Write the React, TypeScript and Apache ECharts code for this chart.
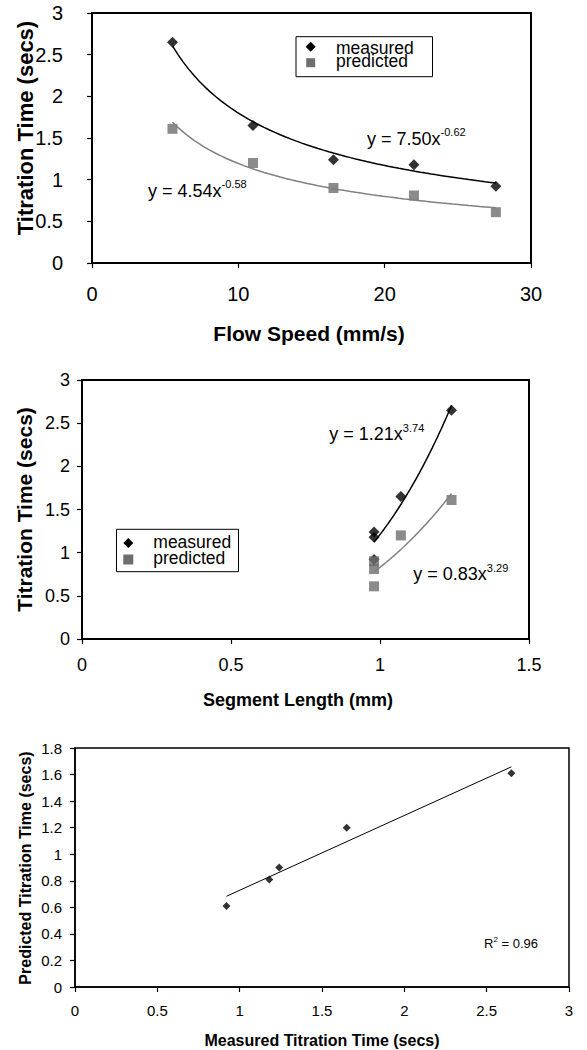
import React, { useEffect, useRef } from "react";
import * as echarts from "echarts";

const FONT = "'Liberation Sans', Arial, Helvetica, sans-serif";

// ---- data ----
const flowSpeed = [5.5, 11, 16.5, 22, 27.6];
const segmentLength = [1.24, 1.07, 0.98, 0.98, 0.98];
const measuredTime = [2.65, 1.65, 1.24, 1.18, 0.92];
const predictedTime = [1.61, 1.2, 0.9, 0.81, 0.61];

// power-law trendlines as printed on the chart (y = a x^b)
const speedFitMeasured = { a: 7.5, b: -0.62, base: "y = 7.50x", sup: "-0.62" };
const speedFitPredicted = { a: 4.54, b: -0.58, base: "y = 4.54x", sup: "-0.58" };
const lengthFitMeasured = { a: 1.21, b: 3.74, base: "y = 1.21x", sup: "3.74" };
const lengthFitPredicted = { a: 0.83, b: 3.29, base: "y = 0.83x", sup: "3.29" };
const rSquaredText = "0.96";

const legendNames = ["measured", "predicted"];

const BLACK = "#000000";
const GRAY_MARK = "#6e6e6e";
const GRAY_LINE = "#808080";

function powerCurve(fit: { a: number; b: number }, xs: number[]) {
  const lo = Math.min(...xs);
  const hi = Math.max(...xs);
  const n = 60;
  const out: number[][] = [];
  for (let i = 0; i <= n; i++) {
    const x = lo + ((hi - lo) * i) / n;
    out.push([x, fit.a * Math.pow(x, fit.b)]);
  }
  return out;
}

function linearFit(xs: number[], ys: number[]) {
  const n = xs.length;
  const mx = xs.reduce((s, v) => s + v, 0) / n;
  const my = ys.reduce((s, v) => s + v, 0) / n;
  let sxy = 0;
  let sxx = 0;
  for (let i = 0; i < n; i++) {
    sxy += (xs[i] - mx) * (ys[i] - my);
    sxx += (xs[i] - mx) * (xs[i] - mx);
  }
  const slope = sxy / sxx;
  const icpt = my - slope * mx;
  const lo = Math.min(...xs);
  const hi = Math.max(...xs);
  return [
    [lo, icpt + slope * lo],
    [hi, icpt + slope * hi],
  ];
}

let measureCtx: CanvasRenderingContext2D | null = null;
function textWidth(t: string, size: number, weight = "normal") {
  if (!measureCtx) measureCtx = document.createElement("canvas").getContext("2d");
  if (!measureCtx) return t.length * size * 0.55;
  measureCtx.font = `${weight} ${size}px ${FONT}`;
  return measureCtx.measureText(t).width;
}

function txt(x: number, y: number, text: string, size: number, opts: any = {}) {
  return {
    type: "text",
    x,
    y,
    rotation: opts.rotation || 0,
    silent: true,
    z: 100,
    style: {
      text,
      fontSize: size,
      fontFamily: FONT,
      fontWeight: opts.bold ? "bold" : "normal",
      fill: opts.fill || BLACK,
      align: opts.align || "left",
      textAlign: opts.align || "left",
      verticalAlign: "middle",
      textVerticalAlign: "middle",
    },
  };
}

function equation(x: number, y: number, base: string, sup: string, size: number, supSize: number, supDy: number) {
  const w = textWidth(base, size);
  return [txt(x, y, base, size), txt(x + w, y + supDy, sup, supSize)];
}

function legendBox(
  box: number[],
  mx: number,
  dy: number,
  sy: number,
  sq: number,
  tx: number,
  ty1: number,
  ty2: number,
  size: number
) {
  const d = 5;
  return [
    {
      type: "rect",
      silent: true,
      z: 90,
      shape: { x: box[0], y: box[1], width: box[2], height: box[3] },
      style: { fill: "#ffffff", stroke: BLACK, lineWidth: 1 },
    },
    {
      type: "polygon",
      silent: true,
      z: 95,
      shape: { points: [[mx, dy - d], [mx + d, dy], [mx, dy + d], [mx - d, dy]] },
      style: { fill: BLACK },
    },
    {
      type: "rect",
      silent: true,
      z: 95,
      shape: { x: mx - sq / 2, y: sy - sq / 2, width: sq, height: sq },
      style: { fill: GRAY_MARK },
    },
    txt(tx, ty1, legendNames[0], size),
    txt(tx, ty2, legendNames[1], size),
  ];
}

function axisCfg(grid: number, min: number, max: number, interval: number, fontSize: number, margin: number, lw: number) {
  return {
    gridIndex: grid,
    type: "value",
    min,
    max,
    interval,
    axisLine: { show: true, onZero: false, lineStyle: { color: BLACK, width: lw } },
    axisTick: { show: true, length: 5, lineStyle: { color: BLACK, width: 1.2 } },
    axisLabel: { fontSize, color: BLACK, fontFamily: FONT, margin },
    splitLine: { show: false },
  };
}

export default function App() {
  const ref = useRef<HTMLDivElement>(null);

  useEffect(() => {
    if (!ref.current) return;
    const chart = echarts.init(ref.current, null, { renderer: "svg" });

    const grids = [
      { left: 92, top: 13, width: 439, height: 250 },
      { left: 82, top: 380, width: 447, height: 259 },
      { left: 75, top: 748, width: 494, height: 239 },
    ];
    const borderW = [2, 2, 1.5];

    const scatterMeasured = (xi: number, xs: number[], size: number) => ({
      type: "scatter",
      name: "measured",
      xAxisIndex: xi,
      yAxisIndex: xi,
      symbol: "diamond",
      symbolSize: size,
      silent: true,
      itemStyle: { color: BLACK },
      data: xs.map((x, i) => [x, measuredTime[i]]),
      z: 2,
    });
    const scatterPredicted = (xi: number, xs: number[], size: number) => ({
      type: "scatter",
      name: "predicted",
      xAxisIndex: xi,
      yAxisIndex: xi,
      symbol: "rect",
      symbolSize: size,
      silent: true,
      itemStyle: { color: GRAY_MARK },
      data: xs.map((x, i) => [x, predictedTime[i]]),
      z: 3,
    });
    const lineSeries = (xi: number, data: number[][], color: string, width: number) => ({
      type: "line",
      xAxisIndex: xi,
      yAxisIndex: xi,
      showSymbol: false,
      symbol: "none",
      silent: true,
      smooth: false,
      lineStyle: { color, width },
      data,
      z: 4,
    });

    const graphics: any[] = [
      // chart 1
      txt(25, 128, "Titration Time (secs)", 22, { bold: true, align: "center", rotation: Math.PI / 2 }),
      txt(309, 333, "Flow Speed (mm/s)", 21, { bold: true, align: "center" }),
      ...equation(367, 139, speedFitMeasured.base, speedFitMeasured.sup, 18, 11, -7),
      ...equation(148, 191, speedFitPredicted.base, speedFitPredicted.sup, 18, 11, -7),
      ...legendBox([296, 36.7, 136.5, 40], 310.7, 46.7, 62.7, 9, 336, 48, 61, 17.5),
      // chart 2
      txt(24, 509.5, "Titration Time (secs)", 21, { bold: true, align: "center", rotation: Math.PI / 2 }),
      txt(298, 700, "Segment Length (mm)", 18, { bold: true, align: "center" }),
      ...equation(329.3, 434, lengthFitMeasured.base, lengthFitMeasured.sup, 18, 11, -6),
      ...equation(413.3, 574, lengthFitPredicted.base, lengthFitPredicted.sup, 18, 11, -6),
      ...legendBox([116.5, 529.3, 122, 42.4], 128.3, 543, 559.5, 10, 153.3, 542.4, 558.4, 17.5),
      // chart 3
      txt(25, 868, "Predicted Titration Time (secs)", 16, { bold: true, align: "center", rotation: Math.PI / 2 }),
      txt(322, 1040, "Measured Titration Time (secs)", 16, { bold: true, align: "center" }),
    ];
    // R² label
    const rx = 484;
    const ry = 943;
    const rw = textWidth("R", 13);
    const sw = textWidth("2", 8);
    graphics.push(txt(rx, ry, "R", 13));
    graphics.push(txt(rx + rw, ry - 4, "2", 8));
    graphics.push(txt(rx + rw + sw, ry, " = " + rSquaredText, 13));

    const option: any = {
      animation: false,
      backgroundColor: "#ffffff",
      textStyle: { fontFamily: FONT },
      grid: grids.map((g, i) => ({
        ...g,
        show: true,
        borderColor: BLACK,
        borderWidth: borderW[i],
        backgroundColor: "transparent",
        containLabel: false,
      })),
      xAxis: [
        axisCfg(0, 0, 30, 10, 20, 21, 2),
        axisCfg(1, 0, 1.5, 0.5, 18, 17, 2),
        axisCfg(2, 0, 3, 0.5, 15, 16, 1.5),
      ],
      yAxis: [
        axisCfg(0, 0, 3, 0.5, 20, 29, 2),
        axisCfg(1, 0, 3, 0.5, 18, 12, 2),
        axisCfg(2, 0, 1.8, 0.2, 15, 13, 1.5),
      ],
      series: [
        scatterMeasured(0, flowSpeed, 11),
        scatterPredicted(0, flowSpeed, 10),
        lineSeries(0, powerCurve(speedFitMeasured, flowSpeed), BLACK, 1.5),
        lineSeries(0, powerCurve(speedFitPredicted, flowSpeed), GRAY_LINE, 1.5),

        scatterMeasured(1, segmentLength, 11),
        scatterPredicted(1, segmentLength, 10),
        lineSeries(1, powerCurve(lengthFitMeasured, segmentLength), BLACK, 1.5),
        lineSeries(1, powerCurve(lengthFitPredicted, segmentLength), GRAY_LINE, 1.5),

        {
          type: "scatter",
          xAxisIndex: 2,
          yAxisIndex: 2,
          symbol: "diamond",
          symbolSize: 8,
          silent: true,
          itemStyle: { color: BLACK },
          data: measuredTime.map((x, i) => [x, predictedTime[i]]),
        },
        lineSeries(2, linearFit(measuredTime, predictedTime), BLACK, 1),
      ],
      graphic: { elements: graphics },
    };

    chart.setOption(option);
    return () => {
      chart.dispose();
    };
  }, []);

  return (
    <div
      ref={ref}
      style={{ position: "absolute", left: 0, top: 0, width: 587, height: 1050, background: "#fff" }}
    />
  );
}
